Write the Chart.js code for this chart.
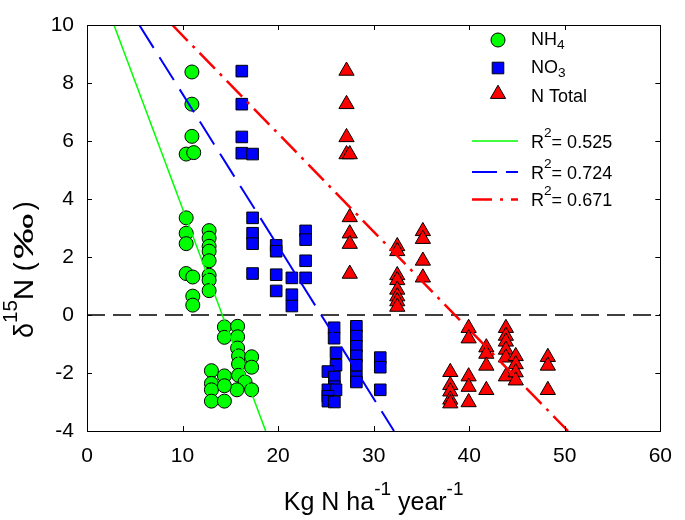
<!DOCTYPE html>
<html>
<head>
<meta charset="utf-8">
<script src="https://cdn.jsdelivr.net/npm/chart.js@4.4.1/dist/chart.umd.min.js"></script>
<style>
  html, body { margin: 0; padding: 0; background: #fff; }
  #wrap { width: 685px; height: 520px; }
</style>
</head>
<body>
<div id="wrap"><canvas id="isoChart" width="685" height="520"></canvas></div>
<script>
// d15N vs N load - scatter + regression lines

const FONT = '"Liberation Sans", Arial, sans-serif';

// NH4
const nh4X = [10.98, 10.98, 10.98, 10.38, 11.17,
    10.38, 10.38, 10.38, 10.38, 11.07, 11.07, 11.07,
    12.78, 12.78, 12.78, 12.78, 12.78, 12.78, 12.78, 12.78,
    14.38, 14.38, 15.76, 15.76, 15.76, 15.86, 15.86, 17.23, 17.23, 15.86,
    16.54, 17.23, 15.69, 13.02, 13.02, 13.02, 13.02, 14.38, 14.38, 14.38];
const nh4Y = [8.38, 7.27, 6.16, 5.55, 5.60,
    3.35, 2.82, 2.46, 1.43, 1.31, 0.65, 0.34,
    2.91, 2.65, 2.37, 2.20, 1.87, 1.37, 1.20, 0.84,
    -0.41, -0.77, -0.39, -0.75, -1.14, -1.41, -1.69, -1.44, -1.80, -2.08,
    -2.31, -2.58, -2.58, -1.92, -2.36, -2.58, -2.97, -2.10, -2.44, -2.97];

// NO3
const no3X = [16.20, 16.20, 16.20, 16.20, 17.33,
    17.33, 17.33, 17.33, 17.33,
    19.80, 19.80, 19.80, 19.80,
    21.44, 21.44, 21.44,
    22.88, 22.88, 22.88, 22.88,
    25.86, 25.86, 26.06, 26.06, 25.21, 25.89, 25.89, 25.21, 26.06, 25.21, 25.21, 25.89,
    28.19, 28.19, 28.19, 28.19, 28.19, 28.19, 28.19,
    30.69, 30.69, 30.69];
const no3Y = [8.41, 7.27, 6.14, 5.58, 5.55,
    3.35, 2.82, 2.46, 1.43,
    2.40, 2.20, 1.39, 0.83,
    1.28, 0.70, 0.31,
    2.90, 2.60, 1.87, 1.28,
    -0.44, -0.80, -1.30, -1.73, -1.95, -2.14, -2.47, -2.58, -2.58, -2.80, -2.97, -3.00,
    -0.39, -0.73, -1.08, -1.41, -1.73, -2.14, -2.31,
    -1.47, -1.80, -2.58];

// N Total
const ntotX = [27.16, 27.16, 27.16, 27.16, 27.50,
    27.50, 27.50, 27.50, 27.50,
    32.47, 32.47, 32.47, 32.47, 32.47, 32.47, 32.47, 32.47,
    35.15, 35.15, 35.15, 35.15,
    39.94, 39.94,
    38.02, 38.02, 38.02, 38.02, 38.02,
    39.94, 39.94, 39.94,
    41.79, 41.79, 41.79, 41.79,
    43.84, 43.84, 43.84, 43.84, 43.84, 43.84,
    44.87, 44.87, 44.87, 44.87,
    48.23, 48.23, 48.23];
const ntotY = [8.42, 7.27, 6.13, 5.54, 5.54,
    3.37, 2.81, 2.45, 1.42,
    2.37, 2.20, 1.37, 1.20, 0.87, 0.64, 0.47, 0.28,
    2.89, 2.62, 1.87, 1.29,
    -0.45, -0.81,
    -1.97, -2.42, -2.64, -2.92, -3.05,
    -2.12, -2.48, -3.01,
    -1.12, -1.34, -1.75, -2.59,
    -0.45, -0.72, -0.92, -1.20, -1.47, -2.12,
    -1.42, -1.70, -1.98, -2.26,
    -1.45, -1.75, -2.59];

// regression lines (end points)
const fitNh4X = [2.82, 18.70];
const fitNh4Y = [10, -4];
const fitNo3X = [5.47, 32.13];
const fitNo3Y = [10, -4];
const fitNtotX = [8.93, 50.34];
const fitNtotY = [10, -4];
const r2Values = ['0.525', '0.724', '0.671'];

const zeroX = [0, 60];
const zeroY = [0, 0];

const xTicks = [0, 10, 20, 30, 40, 50, 60];
const yTicks = [-4, -2, 0, 2, 4, 6, 8, 10];

const toPts = (xs, ys) => xs.map((x, i) => ({ x: x, y: ys[i] }));

// text with sub/superscripts: parts = [[text, kind, hscale, gapAfter]], kind 1 = sup, -1 = sub
function drawRich(ctx, parts, x, y, size, align) {
    let total = 0;
    const pieces = parts.map(([t, k, sx, gap]) => {
        const fs = k ? size * 0.76 : size;
        sx = sx || 1;
        ctx.font = fs + 'px ' + FONT;
        const w = ctx.measureText(t).width * sx;
        total += w + (gap || 0);
        return { t: t, fs: fs, w: w, sx: sx, gap: gap || 0,
            dy: k === 1 ? -size * 0.6 : (k === -1 ? size * 0.24 : 0) };
    });
    let cx = align === 'center' ? x - total / 2 : x;
    pieces.forEach(p => {
        ctx.font = p.fs + 'px ' + FONT;
        ctx.save();
        ctx.translate(cx, y + p.dy);
        ctx.scale(p.sx, 1);
        ctx.fillText(p.t, 0, 0);
        ctx.restore();
        cx += p.w + p.gap;
    });
}

function drawMarker(ctx, style, x, y, color) {
    ctx.save();
    ctx.fillStyle = color;
    ctx.strokeStyle = '#000';
    ctx.lineWidth = 1;
    ctx.beginPath();
    if (style === 'circle') {
        ctx.arc(x, y, 7, 0, Math.PI * 2);
    } else if (style === 'rect') {
        ctx.rect(x - 5.8, y - 5.8, 11.6, 11.6);
    } else {
        const r = 8.8;
        ctx.moveTo(x, y - r);
        ctx.lineTo(x + r * 0.866, y + r * 0.5);
        ctx.lineTo(x - r * 0.866, y + r * 0.5);
        ctx.closePath();
    }
    ctx.fill();
    ctx.stroke();
    ctx.restore();
}

const legendSymbols = [
    { parts: [['NH', 0], ['4', -1]], style: 'circle', color: '#00ff00', y: 40, base: 44.5 },
    { parts: [['NO', 0], ['3', -1]], style: 'rect', color: '#0000ff', y: 68, base: 73 },
    { parts: [['N Total', 0]], style: 'triangle', color: '#ff0000', y: 94, base: 101.5 }
];
const legendLines = [
    { color: '#00ff00', dash: [], width: 1.5, y: 141 },
    { color: '#0000ff', dash: [25, 9], width: 2, y: 172 },
    { color: '#ff0000', dash: [20, 8, 3, 8], width: 2.5, y: 199.5 }
];

const decorPlugin = {
    id: 'decor',
    afterDraw(chart) {
        const ctx = chart.ctx;
        const a = chart.chartArea;
        const sx = chart.scales.x, sy = chart.scales.y;
        ctx.save();
        // frame + inward ticks
        ctx.strokeStyle = '#000';
        ctx.lineWidth = 1;
        ctx.strokeRect(Math.round(a.left) + 0.5, Math.round(a.top) + 0.5,
            Math.round(a.right - a.left), Math.round(a.bottom - a.top));
        ctx.beginPath();
        xTicks.forEach(v => {
            const px = Math.round(sx.getPixelForValue(v)) + 0.5;
            ctx.moveTo(px, a.bottom); ctx.lineTo(px, a.bottom - 5);
            ctx.moveTo(px, a.top); ctx.lineTo(px, a.top + 5);
        });
        yTicks.forEach(v => {
            const py = Math.round(sy.getPixelForValue(v)) + 0.5;
            ctx.moveTo(a.left, py); ctx.lineTo(a.left + 5, py);
            ctx.moveTo(a.right, py); ctx.lineTo(a.right - 5, py);
        });
        ctx.stroke();

        // axis titles
        ctx.fillStyle = '#000';
        ctx.textBaseline = 'alphabetic';
        drawRich(ctx, [['Kg N ha', 0], ['-1', 1], [' year', 0], ['-1', 1]],
            (a.left + a.right) / 2, 510, 25, 'center');
        ctx.save();
        ctx.translate(33, 338);
        ctx.rotate(-Math.PI / 2);
        drawRich(ctx, [['\u03b4', 0], ['15', 1], ['N', 0, 1.1], [' (', 0, 1, 3],
            ['\u2030', 0, 1.7, 3], [')', 0]], 0, 0, 27, 'left');
        ctx.restore();

        // legend
        legendSymbols.forEach(s => {
            drawMarker(ctx, s.style, 498, s.y, s.color);
            ctx.fillStyle = '#000';
            drawRich(ctx, s.parts, 531, s.base, 18, 'left');
        });
        legendLines.forEach((l, i) => {
            ctx.save();
            ctx.strokeStyle = l.color;
            ctx.lineWidth = l.width;
            ctx.setLineDash(l.dash);
            ctx.beginPath();
            ctx.moveTo(472, l.y);
            ctx.lineTo(518, l.y);
            ctx.stroke();
            ctx.restore();
            ctx.fillStyle = '#000';
            drawRich(ctx, [['R', 0], ['2', 1], ['= ' + r2Values[i], 0]], 531, l.y + 6.5, 18, 'left');
        });
        ctx.restore();
    }
};

const markerBase = { borderColor: '#000', borderWidth: 1, showLine: false, order: 1 };

new Chart(document.getElementById('isoChart'), {
    type: 'scatter',
    data: {
        datasets: [
            Object.assign({ label: 'NH4', data: toPts(nh4X, nh4Y), pointStyle: 'circle', pointRadius: 7,
                backgroundColor: '#00ff00' }, markerBase),
            Object.assign({ label: 'NO3', data: toPts(no3X, no3Y), pointStyle: 'rect', pointRadius: 8.2,
                backgroundColor: '#0000ff' }, markerBase),
            Object.assign({ label: 'N Total', data: toPts(ntotX, ntotY), pointStyle: 'triangle', pointRadius: 8.8,
                backgroundColor: '#ff0000' }, markerBase),
            { label: 'zero', data: toPts(zeroX, zeroY), showLine: true, pointRadius: 0,
                borderColor: '#000', borderWidth: 1.3, borderDash: [18, 8], order: 2 },
            { label: 'fit NH4', data: toPts(fitNh4X, fitNh4Y), showLine: true, pointRadius: 0,
                borderColor: '#00ff00', borderWidth: 1.5, order: 0 },
            { label: 'fit NO3', data: toPts(fitNo3X, fitNo3Y), showLine: true, pointRadius: 0,
                borderColor: '#0000ff', borderWidth: 2, borderDash: [27, 11], order: 0 },
            { label: 'fit N Total', data: toPts(fitNtotX, fitNtotY), showLine: true, pointRadius: 0,
                borderColor: '#ff0000', borderWidth: 2.5, borderDash: [22, 7, 3, 7], order: 0 }
        ]
    },
    options: {
        responsive: false,
        animation: false,
        events: [],
        layout: { padding: { left: 0, right: 2.3, top: 0, bottom: 0 } },
        plugins: { legend: { display: false }, tooltip: { enabled: false } },
        scales: {
            x: {
                type: 'linear', min: 0, max: 60,
                afterFit: s => { s.height = 89; },
                afterBuildTicks: s => { s.ticks = xTicks.map(v => ({ value: v })); },
                grid: { display: false, drawTicks: false },
                border: { display: false },
                ticks: { padding: 13, color: '#000', font: { family: FONT, size: 21 } }
            },
            y: {
                type: 'linear', min: -4, max: 10,
                afterFit: s => { s.width = 87; },
                afterBuildTicks: s => { s.ticks = yTicks.map(v => ({ value: v })); },
                grid: { display: false, drawTicks: false },
                border: { display: false },
                ticks: { padding: 13, color: '#000', font: { family: FONT, size: 21, lineHeight: 24 / 21 } }
            }
        }
    },
    plugins: [decorPlugin]
});
</script>
</body>
</html>
